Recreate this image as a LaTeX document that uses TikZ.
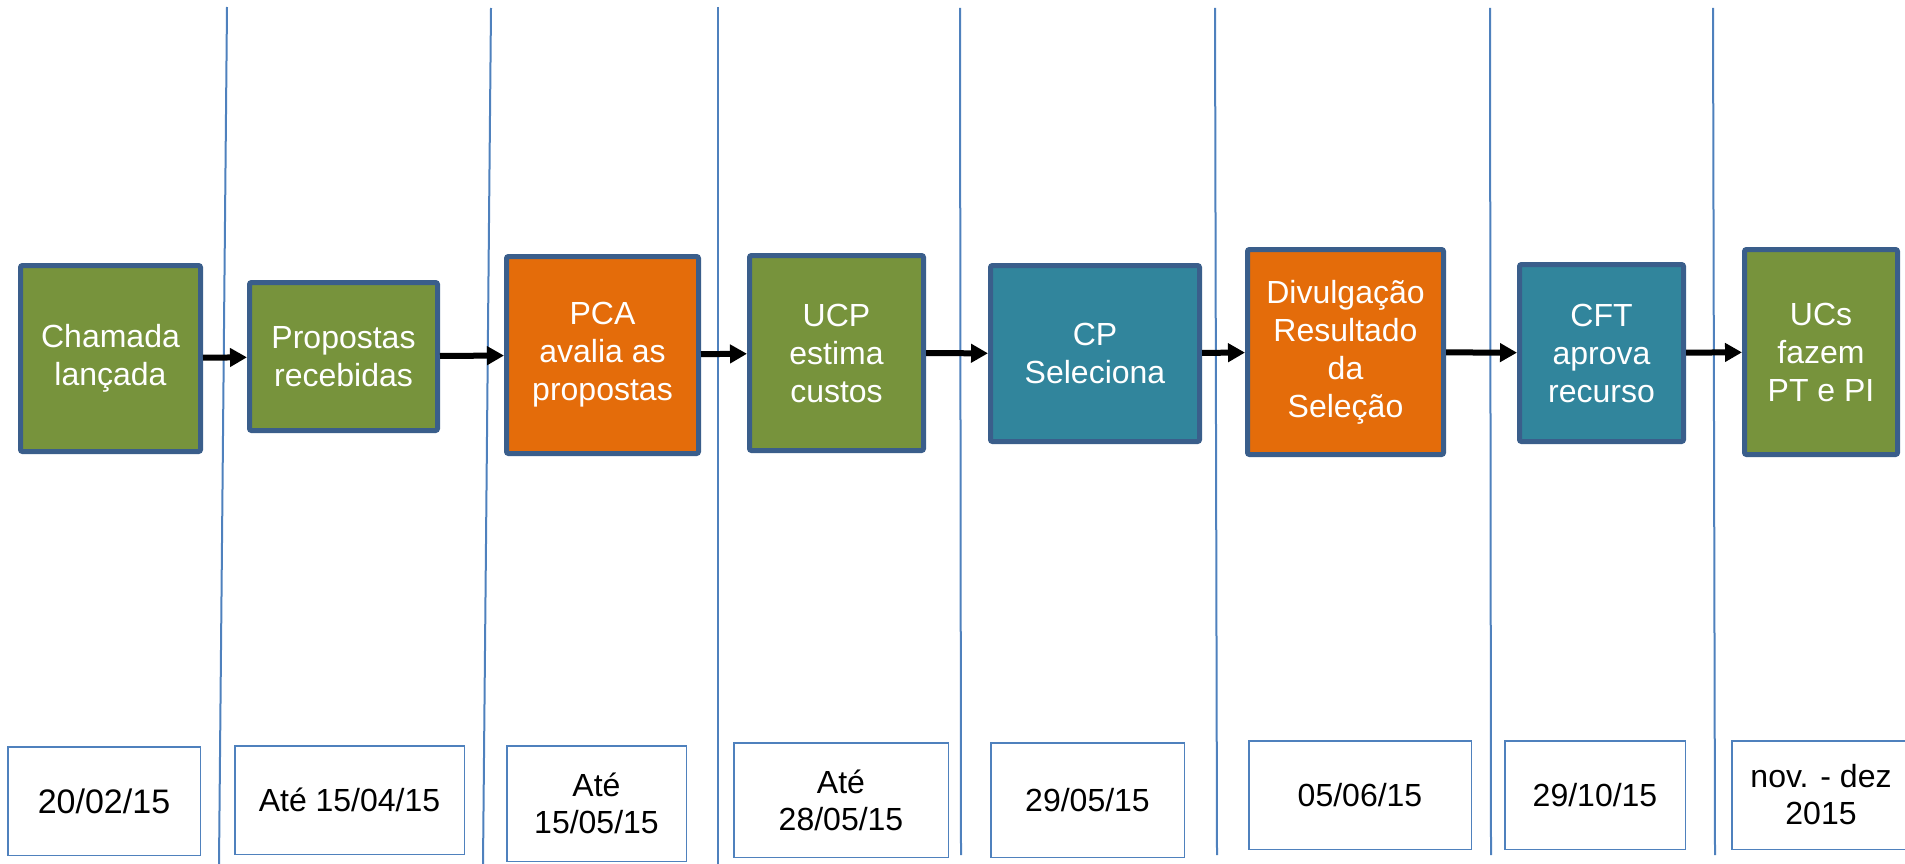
\documentclass[tikz,border=0pt]{standalone}
\usepackage{fontspec}
\setmainfont{Liberation Sans}
\usepackage{tikz}
\usetikzlibrary{arrows.meta}
\definecolor{verde}{RGB}{119,147,60}
\definecolor{laranja}{RGB}{228,108,10}
\definecolor{azulpet}{RGB}{49,133,156}
\definecolor{borda}{RGB}{58,94,139}
\definecolor{linha}{RGB}{79,129,189}

\begin{document}
\begin{tikzpicture}[x=1pt,y=-1pt,
	etapa/.style={draw=borda,line width=5pt,rounded corners=2pt,text=white,align=center,inner sep=0pt,font=\fontsize{32}{38}\selectfont},
	data/.style={draw=linha,line width=1.5pt,fill=white,align=center,inner sep=0pt,font=\fontsize{32}{37}\selectfont},
	seta/.style={line width=6pt,-{Triangle[length=17pt,width=18pt]}}]
	\clip (0,0) rectangle (1905,864);
	% divisorias
	\draw[linha,line width=2pt] (227,7) -- (219,864);
	\draw[linha,line width=2pt] (491,8) -- (483,864);
	\draw[linha,line width=2pt] (718,7) -- (718,864);
	\draw[linha,line width=2pt] (960,8) -- (961,855);
	\draw[linha,line width=2pt] (1215,8) -- (1217,855);
	\draw[linha,line width=2pt] (1490,8) -- (1491,855);
	\draw[linha,line width=2pt] (1713,8) -- (1715,855);
	% etapas
	\node[etapa,fill=verde,minimum width=180pt,minimum height=186pt] (chamada) at (110.5,358.5) {Chamada\\lançada};
	\node[etapa,fill=verde,minimum width=188pt,minimum height=148pt] (propostas) at (343.5,356.5) {Propostas\\recebidas};
	\node[etapa,fill=laranja,minimum width=192pt,minimum height=197pt] (pca) at (602.5,355) {PCA\\avalia as\\propostas};
	\node[etapa,fill=verde,minimum width=174pt,minimum height=195pt] (ucp) at (836.5,353) {UCP\\estima\\custos};
	\node[etapa,fill=azulpet,minimum width=209pt,minimum height=176pt] (cp) at (1095,353.5) {CP\\Seleciona};
	\node[etapa,fill=laranja,minimum width=196pt,minimum height=205pt] (divulga) at (1345.5,352) {Divulgação\\Resultado\\da\\Seleção};
	\node[etapa,fill=azulpet,minimum width=164pt,minimum height=177pt] (cft) at (1601.5,353) {CFT\\aprova\\recurso};
	\node[etapa,fill=verde,minimum width=153pt,minimum height=205pt] (ucs) at (1821,352) {UCs\\fazem\\PT e PI};
	% setas
	\draw[seta] (chamada) -- (propostas);
	\draw[seta] (propostas) -- (pca);
	\draw[seta] (pca) -- (ucp);
	\draw[seta] (ucp) -- (cp);
	\draw[seta] (cp) -- (divulga);
	\draw[seta] (divulga) -- (cft);
	\draw[seta] (cft) -- (ucs);
	% datas
	\node[data,font=\fontsize{34}{38}\selectfont,minimum width=192.5pt,minimum height=108.5pt] (d1) at (104,801) {20/02/15};
	\node[data,minimum width=229.5pt,minimum height=108.5pt] (d2) at (349.5,800) {Até 15/04/15};
	\node[data,minimum width=179.5pt,minimum height=115.5pt] (d3) at (596.5,803.5) {Até\\15/05/15};
	\node[data,minimum width=214.5pt,minimum height=114.5pt] (d4) at (841,800) {Até\\28/05/15};
	\node[data,minimum width=193.5pt,minimum height=114.5pt] (d5) at (1087.5,800) {29/05/15};
	\node[data,minimum width=222.5pt,minimum height=108.5pt] (d6) at (1360,795) {05/06/15};
	\node[data,minimum width=180.5pt,minimum height=108.5pt] (d7) at (1595,795) {29/10/15};
	\node[data,minimum width=178.5pt,minimum height=108.5pt] (d8) at (1821,795) {nov. - dez\\2015};
\end{tikzpicture}
\end{document}
